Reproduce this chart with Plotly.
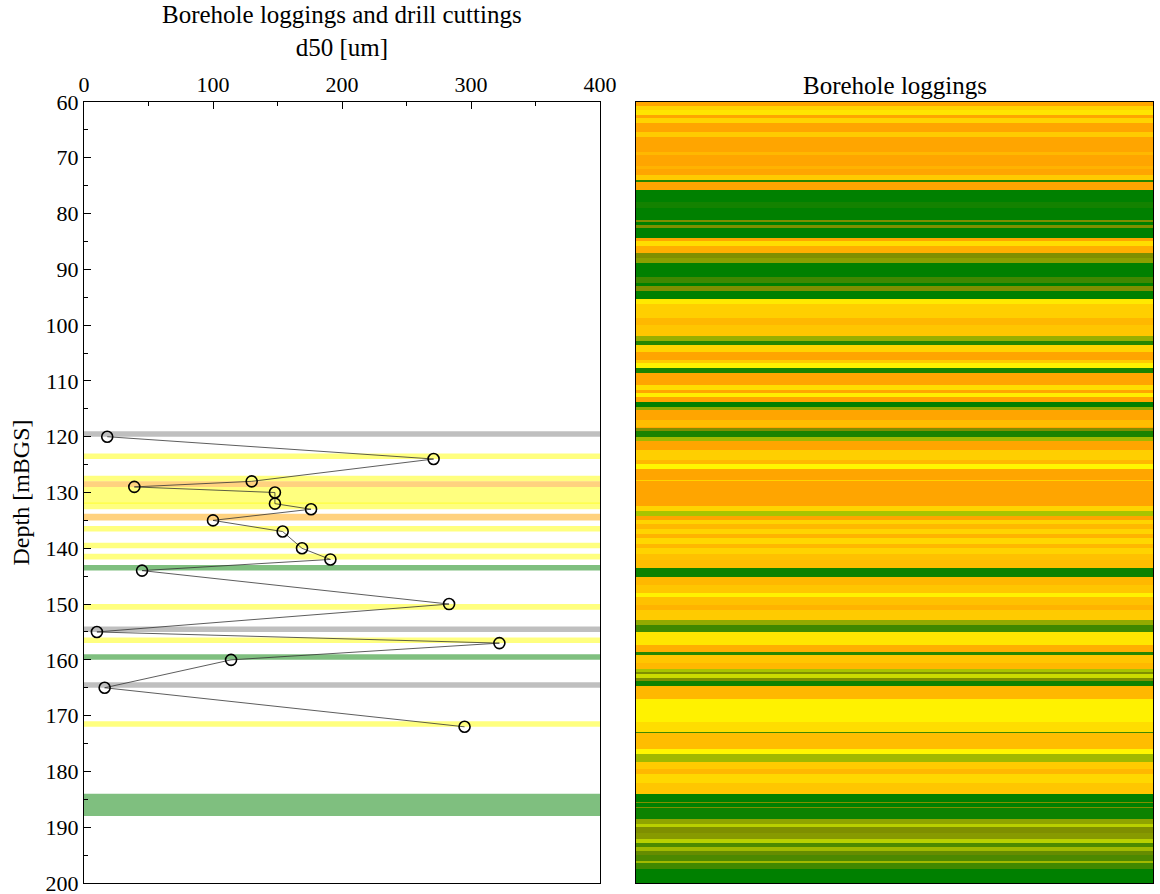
import plotly.graph_objects as go

# ---------------- data ----------------
# drill cuttings: depth [mBGS] and d50 [um]
d50_depth = [120, 124, 128, 129, 130, 132, 133, 135, 137, 140, 142, 144, 150, 155, 157, 160, 165, 172]
d50_value = [18, 271, 130, 39, 148, 148, 176, 100, 154, 169, 191, 45, 283, 10, 322, 114, 16, 295]

# lithology bands from drill cuttings (top, bottom, class)
band_top = [119, 123, 127, 128, 129, 131.8, 133.8, 136, 139, 141, 143, 150, 154, 156, 159, 164, 171, 184]
band_bottom = [120, 124, 128, 129, 132, 133, 135, 137, 140, 142, 144, 151, 155, 157, 160, 165, 172, 188]
band_class = ["gray", "yellow", "yellow", "orange", "yellow", "yellow", "orange", "yellow", "yellow",
              "yellow", "green", "yellow", "gray", "yellow", "green", "gray", "yellow", "green"]
band_colors = {"gray": "rgba(128,128,128,0.5)", "yellow": "rgba(255,255,0,0.5)",
               "orange": "rgba(255,165,0,0.5)", "green": "rgba(0,128,0,0.5)"}

# borehole logging: interval boundaries [mBGS] and class code (0 = green ... 5 = orange)
log_bounds = [60.0, 60.8, 61.4, 62.3, 62.9, 63.8, 65.3, 66.2, 69.0, 69.5, 71.5, 72.0, 73.0, 73.9, 74.4,
              75.7, 78.0, 79.0, 81.1, 81.5, 82.0, 82.5, 84.4, 85.0, 85.9, 87.1, 88.0, 88.9, 91.3, 92.4,
              92.9, 93.9, 95.4, 96.2, 98.7, 99.9, 102.0, 102.8, 103.6, 104.8, 106.2, 106.8, 107.7, 108.5,
              110.7, 111.6, 112.2, 112.8, 113.7, 114.6, 115.2, 117.0, 118.2, 118.5, 119.0, 120.0, 120.8,
              122.4, 124.2, 124.9, 125.7, 127.7, 128.0, 132.5, 133.4, 134.3, 134.9, 135.7, 136.5, 137.5,
              138.2, 139.3, 140.0, 141.0, 142.1, 143.6, 145.1, 146.5, 148.1, 148.7, 150.2, 151.0, 152.9,
              153.8, 155.0, 157.4, 158.6, 159.2, 160.5, 161.6, 162.1, 162.6, 163.2, 163.7, 164.6, 167.0,
              171.1, 172.9, 173.2, 175.9, 176.8, 178.3, 179.5, 180.5, 182.0, 184.0, 185.4, 185.7, 186.3,
              186.6, 188.5, 189.4, 190.0, 191.0, 192.2, 192.8, 193.6, 194.3, 195.0, 196.0, 196.5, 197.4,
              200.0]
log_code = [5, 4, 3.6, 5, 4, 5, 4.2, 5, 4.6, 5, 4.7, 5, 4.2, 0.3,
            5, 0, 0.15, 0, 1, 0, 1, 0, 5, 3.8, 4.8, 1, 1.3, 0, 0.5,
            0, 1, 0, 3.5, 4.1, 4.6, 4.3, 1.6, 0.3, 4, 5, 4.2, 3.3, 0.2,
            5, 3.8, 5, 3.4, 5, 0, 1.5, 5, 4.5, 5, 1, 0.2, 1.8,
            5, 4.1, 4.6, 3.2, 5, 4, 5, 4, 2, 5, 4, 4.6, 4,
            4.7, 3.9, 4.6, 4, 4.4, 4.5, 0.1, 4.6, 4.3, 3.3, 4.4, 4.7, 4.2,
            1.5, 0.5, 3.6, 4.8, 0.3, 4.3, 4.6, 2, 1, 2.4, 1, 0.1, 4.6,
            3.3, 3.8, 0.5, 4.5, 3.2, 1.8, 4.2, 4.6, 3.9, 4.3, 0, 1, 0,
            1, 0.1, 1.4, 2.2, 1, 1.2, 2.2, 0.6, 1.8, 0.8, 0.6, 1.8, 0.5,
            0]

log_colorscale = [[0.0, "#008000"], [0.2, "#7f8f00"], [0.4, "#a8c400"],
                  [0.6, "#ffff00"], [0.8, "#ffd400"], [1.0, "#ffa500"]]

xticks = [0, 100, 200, 300, 400]
yticks = list(range(60, 201, 10))

FONT = "Liberation Serif, Times New Roman, serif"
W, H = 1160, 894
# plot area in page pixels: x 84..1153, y 102..883
ML, MT = 84, 102
MR, MB = W - 1153, H - 883
PW, PH = W - ML - MR, H - MT - MB


def px_x(page_x):
    return (page_x - ML) / PW


def px_y(page_y):
    return 1 - (page_y - MT) / PH


fig = go.Figure()

# logging heatmap (right panel)
fig.add_trace(go.Heatmap(
    x=[0, 1], y=log_bounds, z=[[c] for c in log_code],
    zmin=0, zmax=5, colorscale=log_colorscale, showscale=False,
    xaxis="x2", yaxis="y2", hoverinfo="skip"))

# drill cutting d50 profile (left panel)
fig.add_trace(go.Scatter(
    x=d50_value, y=d50_depth, mode="lines+markers",
    line=dict(color="#333333", width=0.8),
    marker=dict(symbol="circle-open", size=11, color="black", line=dict(width=1.6, color="black")),
    xaxis="x", yaxis="y", showlegend=False))

shapes = []
for t, b, c in zip(band_top, band_bottom, band_class):
    shapes.append(dict(type="rect", xref="x domain", yref="y", x0=0, x1=1, y0=t, y1=b,
                       fillcolor=band_colors[c], line=dict(width=0), layer="below"))

left_dom = [0, px_x(600)]
right_dom = [px_x(636), 1.0]

fig.update_layout(
    width=W, height=H,
    margin=dict(l=ML, r=MR, t=MT, b=MB, autoexpand=False),
    paper_bgcolor="white", plot_bgcolor="white",
    font=dict(family=FONT, size=22, color="black"),
    showlegend=False,
    shapes=shapes,
    xaxis=dict(domain=left_dom, range=[0, 400], side="top", automargin=False,
               tickvals=xticks, ticks="inside", ticklen=7, tickwidth=1, tickcolor="black",
               minor=dict(dtick=50, ticks="inside", ticklen=4, tickcolor="black"),
               showline=True, linecolor="black", linewidth=1.2, mirror=True,
               showgrid=False, zeroline=False, tickfont=dict(size=22),
               ticklabeloverflow="allow"),
    yaxis=dict(domain=[0, 1], range=[200, 60], tickvals=yticks, ticks="inside", ticklen=7,
               tickwidth=1, tickcolor="black", automargin=False,
               minor=dict(dtick=5, ticks="inside", ticklen=4, tickcolor="black"),
               showline=True, linecolor="black", linewidth=1.2, mirror=True,
               showgrid=False, zeroline=False, tickfont=dict(size=22),
               ticklabeloverflow="allow"),
    xaxis2=dict(domain=right_dom, range=[0, 1], showticklabels=False, ticks="", automargin=False,
                showline=True, linecolor="black", linewidth=1.2, mirror=True,
                showgrid=False, zeroline=False, anchor="y2"),
    yaxis2=dict(domain=[0, 1], range=[200, 60], showticklabels=False, ticks="", automargin=False,
                showline=True, linecolor="black", linewidth=1.2, mirror=True,
                showgrid=False, zeroline=False, anchor="x2"),
    annotations=[
        dict(text="Borehole loggings", xref="x2 domain", yref="paper", x=0.5,
             y=px_y(86), xanchor="center", yanchor="middle", showarrow=False,
             font=dict(size=25, family=FONT)),
        dict(text="Borehole loggings and drill cuttings<br>d50 [um]", xref="x domain", yref="paper",
             x=0.5, y=px_y(31), xanchor="center", yanchor="middle", showarrow=False,
             font=dict(size=25, family=FONT)),
        dict(text="Depth [mBGS]", xref="paper", yref="paper", x=px_x(20), y=0.5,
             xanchor="center", yanchor="middle", textangle=-90, showarrow=False,
             font=dict(size=24, family=FONT)),
    ],
)

# remove the default 8px page margin so the figure fills the 1160x894 window exactly
fig.write_html("out.html", config={"displayModeBar": False},
               post_script="document.body.style.margin='0';")
